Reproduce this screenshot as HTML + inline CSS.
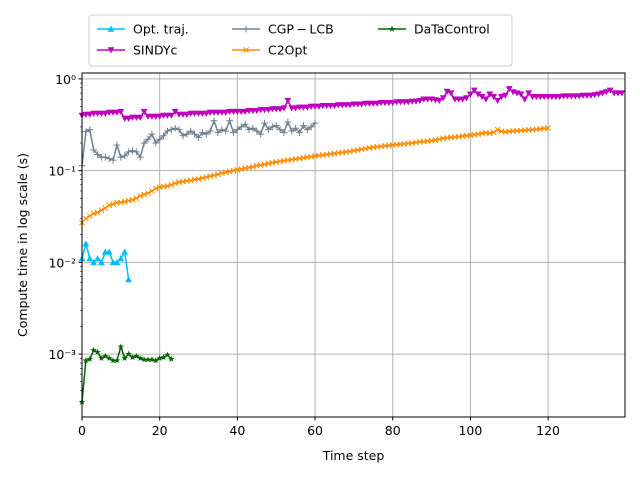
<!DOCTYPE html>
<html><head><meta charset="utf-8"><style>
body{margin:0;background:#fff;}
svg{font-family:"DejaVu Sans","Liberation Sans",sans-serif;}
</style></head><body>
<svg id="chart" width="640" height="480" xmlns="http://www.w3.org/2000/svg"></svg>
<script>
const xTicks=[0,20,40,60,80,100,120];
const yTicks=[0.001,0.01,0.1,1];
const yTickLabels=["10\u207B\u00B3","10\u207B\u00B2","10\u207B\u00B9","10\u2070"];
const optTraj=[.011,.016,.011,.010,.011,.010,.013,.013,.010,.010,.011,.013,.0065];
const sindyc=[.40,.41,.41,.42,.42,.42,.42,.43,.43,.43,.44,
.37,.37,.38,.38,.38,.44,.39,.39,.39,.39,.40,.40,.40,.44,
.41,.41,.41,.42,.42,.42,.42,.42,.43,.43,.43,.43,.43,.44,.44,
.44,.44,.44,.45,.45,.45,.46,.46,.46,.47,.47,.47,.48,.58,
.48,.48,.49,.49,.49,.50,
.50,.50,.51,.51,.51,.51,.52,.52,.52,.52,.53,.53,.53,.54,.54,.54,.54,.55,.55,.55,
.55,.56,.56,.56,.56,.57,.57,.58,.60,.60,.60,.59,.58,.62,.73,.70,.60,.60,.60,.62,
.68,.75,.68,.64,.60,.68,.64,.58,.64,.66,.78,.72,.70,.68,.60,.70,.64,.64,.64,.64,
.64,.64,.64,.64,.65,.65,.65,.65,.65,.66,.66,.66,.67,.68,.70,.72,.75,.70,.70,.70];
const cgpLcb=[.113,.266,.28,.168,.15,.14,.14,.135,.13,.19,.14,.145,.16,.165,.16,.14,.2,.22,.25,.2,
.22,.24,.27,.28,.29,.28,.24,.25,.27,.25,.23,.26,.25,.27,.35,.26,.28,.27,.35,.26,
.28,.30,.32,.28,.29,.27,.25,.33,.28,.30,.31,.28,.26,.34,.27,.29,.26,.31,.28,.30,.33];
const c2opt=[.027,.030,.032,.034,.035,.037,.039,.042,.043,.045,
.045,.046,.047,.048,.050,.053,.055,.057,.060,.064,
.066,.067,.068,.070,.073,.075,.076,.077,.078,.080,
.081,.083,.085,.087,.089,.091,.094,.096,.098,.100,
.102,.104,.106,.108,.110,.113,.115,.117,.120,.122,
.124,.126,.128,.130,.132,.134,.136,.138,.140,.142,
.144,.146,.148,.150,.152,.154,.156,.158,.160,.162,
.165,.168,.171,.174,.177,.180,.182,.184,.186,.188,
.190,.192,.194,.196,.198,.200,.203,.206,.208,.210,
.212,.215,.220,.225,.228,.230,.232,.235,.238,.240,
.243,.246,.250,.254,.258,.255,.262,.280,.268,.264,
.268,.270,.272,.274,.276,.278,.280,.282,.285,.288,.290];
const dataControl=[.0003,.00085,.00088,.0011,.00105,.0009,.00095,.0009,.00085,.00085,.0012,.0009,.001,.00092,.00095,.0009,.00087,.00087,.00087,.00085,.0009,.00092,.00098,.00088];

const L=82,R=625,T=73,B=417,XMAX=139.8;
const LOGTOP=Math.log10(1.16),LOGBOT=Math.log10(2.06e-4);
const xs=v=>L+(v/XMAX)*(R-L);
const ys=v=>T+(LOGTOP-Math.log10(v))/(LOGTOP-LOGBOT)*(B-T);
const svg=document.getElementById('chart');
const NS='http://www.w3.org/2000/svg';
function mk(tag,attrs,parent){const e=document.createElementNS(NS,tag);for(const k in attrs)e.setAttribute(k,attrs[k]);(parent||svg).appendChild(e);return e;}

xTicks.forEach(t=>{const g=mk('line',{x1:xs(t),x2:xs(t),y1:T,y2:B,stroke:'#b0b0b0','stroke-width':1});

});
yTicks.forEach(t=>{const g=mk('line',{x1:L,x2:R,y1:ys(t),y2:ys(t),stroke:'#b0b0b0','stroke-width':1});

});

for(let d=-4;d<=0;d++){for(let m=2;m<=9;m++){const v=m*Math.pow(10,d);if(v<2.06e-4||v>1.16)continue;
const l=mk('line',{x1:L-2,x2:L,y1:ys(v),y2:ys(v),stroke:'#000','stroke-width':0.6});

}}

function marker(type,x,y,color,g){
  const s=3.4;
  if(type==='up') mk('polygon',{points:`${x},${y-s} ${x-s},${y+s*0.8} ${x+s},${y+s*0.8}`,fill:color},g);
  else if(type==='down') mk('polygon',{points:`${x},${y+s} ${x-s},${y-s*0.8} ${x+s},${y-s*0.8}`,fill:color},g);
  else if(type==='plus'){mk('line',{x1:x-s,x2:x+s,y1:y,y2:y,stroke:color,'stroke-width':1},g);mk('line',{x1:x,x2:x,y1:y-s,y2:y+s,stroke:color,'stroke-width':1},g);}
  else if(type==='x'){mk('line',{x1:x-2.6,x2:x+2.6,y1:y-2.6,y2:y+2.6,stroke:color,'stroke-width':1},g);mk('line',{x1:x-2.6,x2:x+2.6,y1:y+2.6,y2:y-2.6,stroke:color,'stroke-width':1},g);}
  else if(type==='star'){let p=[];for(let i=0;i<10;i++){const r=i%2?1.4:3.4;const a=-Math.PI/2+i*Math.PI/5;p.push((x+r*Math.cos(a))+','+(y+r*Math.sin(a)));}mk('polygon',{points:p.join(' '),fill:color},g);}
}
function series(data,color,type,name){
  const g=mk('g',{});
  
  
  const pts=data.map((v,i)=>xs(i)+','+ys(v)).join(' ');
  mk('polyline',{points:pts,fill:'none',stroke:color,'stroke-width':1.5},g);
  data.forEach((v,i)=>marker(type,xs(i),ys(v),color,g));
}
series(optTraj,'#00bfff','up','series-opt-traj');
series(sindyc,'#bf00bf','down','series-sindyc');
series(cgpLcb,'#708090','plus','series-cgp-lcb');
series(c2opt,'#ff8c00','x','series-c2opt');
series(dataControl,'#006400','star','series-datacontrol');

const f=mk('rect',{x:L,y:T,width:R-L,height:B-T,fill:'none',stroke:'#000','stroke-width':1});



xTicks.forEach(t=>{mk('line',{x1:xs(t),x2:xs(t),y1:B,y2:B+3.5,stroke:'#000'});
const tx=mk('text',{x:xs(t),y:B+18,'text-anchor':'middle','font-size':12.5});tx.textContent=t;

});
yTicks.forEach((t,i)=>{mk('line',{x1:L-3.5,x2:L,y1:ys(t),y2:ys(t),stroke:'#000'});
const tx=mk('text',{x:L-6,y:ys(t)+5,'text-anchor':'end','font-size':12.5});tx.textContent=yTickLabels[i];

});

const xt=mk('text',{x:(L+R)/2,y:460,'text-anchor':'middle','font-size':12.5});xt.textContent='Time step';


const yt=mk('text',{x:27,y:245,'text-anchor':'middle','font-size':12.5,transform:'rotate(-90 27 245)'});yt.textContent='Compute time in log scale (s)';



const lg=mk('g',{});


mk('rect',{x:89,y:15,width:423,height:51,rx:3,fill:'#fff',stroke:'#ccc'},lg);
const entries=[['Opt.  traj.','#00bfff','up',97,29],['SINDYc','#bf00bf','down',97,50],['CGP\u2009\u2212\u2009LCB','#708090','plus',232,29],['C2Opt','#ff8c00','x',232,50],['DaTaControl','#006400','star',378,29]];
entries.forEach(e=>{const g=mk('g',{},lg);


mk('line',{x1:e[3],x2:e[3]+28,y1:e[4],y2:e[4],stroke:e[1],'stroke-width':1.5},g);
marker(e[2],e[3]+14,e[4],e[1],g);
const t=mk('text',{x:e[3]+36,y:e[4]+4.5,'font-size':12.5},g);t.textContent=e[0];});
</script>
</body></html>
